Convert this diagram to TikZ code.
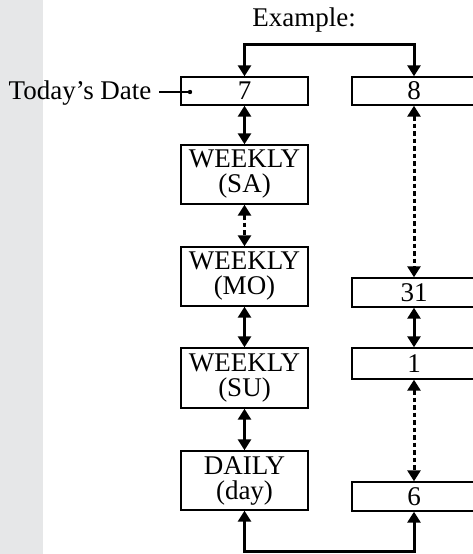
\documentclass[tikz,border=0pt]{standalone}
\usepackage{fontspec}
\setmainfont{Liberation Serif}
\usetikzlibrary{arrows.meta}
\definecolor{bandgray}{HTML}{E6E7E8}
\begin{document}
\begin{tikzpicture}[x=1pt,y=-1pt,
  txt/.style={font=\fontsize{27}{25}\selectfont},
  box/.style={draw,line width=1.4pt,inner sep=0pt,align=center,txt,minimum width=127pt},
  rbox/.style={box,minimum width=124pt},
  conn/.style={line width=3pt,{Triangle[width=13pt,length=11pt]}-{Triangle[width=13pt,length=11pt]}},
  dconn/.style={conn,dash pattern=on 4.5pt off 3pt}]
\useasboundingbox (0,0) rectangle (473,554);
\clip (0,0) rectangle (473,554);
\fill[bandgray] (0,0) rectangle (43,554);
% title
\node[txt,anchor=base] (ex) at (304,27) {Example:};
% left column
\node[box,minimum height=28pt] (d7) at (244.5,91) {7};
\node[box,minimum height=59pt] (sa) at (244.5,174.5) {WEEKLY\\(SA)};
\node[box,minimum height=59pt] (mo) at (244.5,276.5) {WEEKLY\\(MO)};
\node[box,minimum height=60pt] (su) at (244.5,378) {WEEKLY\\(SU)};
\node[box,minimum height=59pt] (dy) at (244.5,480.5) {DAILY\\(day)};
% right column
\node[rbox,minimum height=28pt] (d8) at (414,91) {8};
\node[rbox,minimum height=29pt] (d31) at (414,292.5) {31};
\node[rbox,minimum height=31pt] (d1) at (414,363.5) {1};
\node[rbox,minimum height=29pt] (d6) at (414,496.5) {6};
% today's date label
\node[txt,anchor=base east] (td) at (155,99) {Today’s Date};
\coordinate (tdstart) at (159,92);
\coordinate (tdot) at (190,92);
\draw[line width=1.1pt] (tdstart) -- (tdot);
\fill (tdot) circle (2.2pt);
% connectors
\coordinate (topy) at (0,44);
\coordinate (boty) at (0,551);
\draw[conn] (d7.north) -- (d7.north |- topy) -| (d8.north);
\draw[conn] (d7.south) -- (sa.north);
\draw[dconn] (sa.south) -- (mo.north);
\draw[conn] (mo.south) -- (su.north);
\draw[conn] (su.south) -- (dy.north);
\draw[conn] (dy.south) -- (dy.south |- boty) -| (d6.south);
\draw[dconn] (d8.south) -- (d31.north);
\draw[conn] (d31.south) -- (d1.north);
\draw[dconn] (d1.south) -- (d6.north);
\end{tikzpicture}
\end{document}
